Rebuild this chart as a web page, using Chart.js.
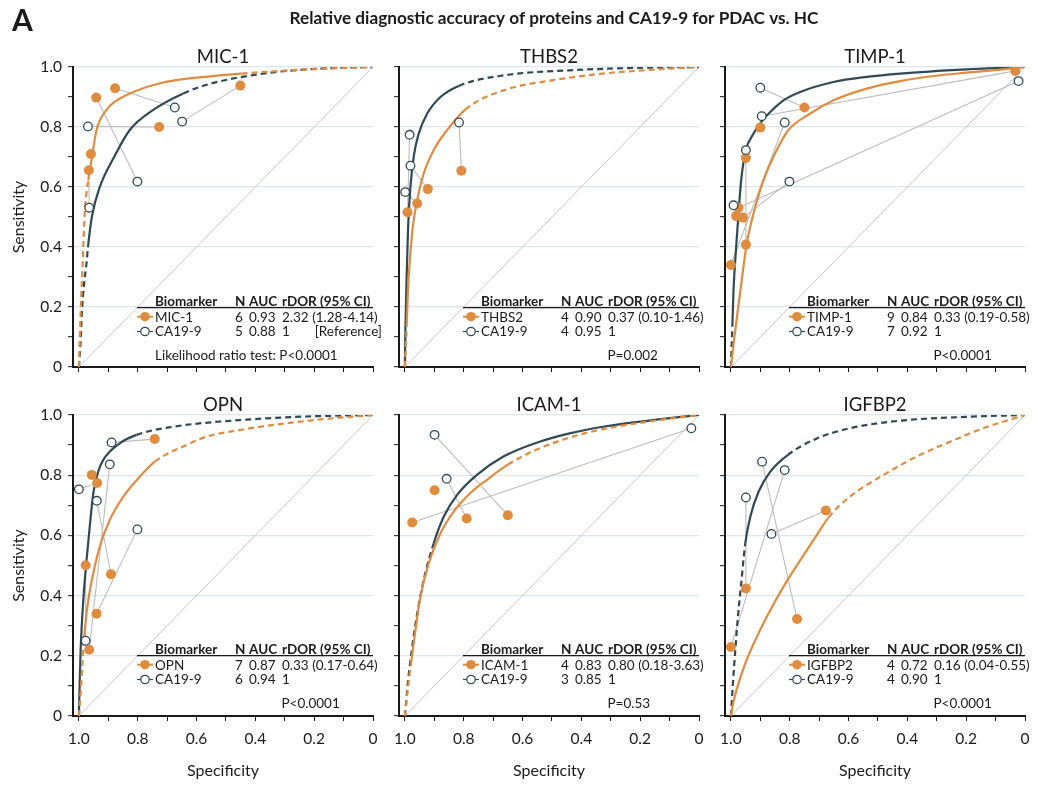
<!DOCTYPE html>
<html>
<head>
<meta charset="utf-8">
<title>Relative diagnostic accuracy of proteins and CA19-9 for PDAC vs. HC</title>
<script src="https://cdn.jsdelivr.net/npm/chart.js"></script>
<style>
body { margin: 0; background: #fff; width: 1038px; height: 786px; position: relative; overflow: hidden; }
canvas { position: absolute; left: 0; top: 0; }
</style>
</head>
<body>
<script>
// ---- data: [specificity, sensitivity] ----
const panelTitles = ['MIC-1', 'THBS2', 'TIMP-1', 'OPN', 'ICAM-1', 'IGFBP2'];
const proteinN = ['6', '4', '9', '7', '4', '4'];
const proteinAuc = ['0.93', '0.90', '0.84', '0.87', '0.83', '0.72'];
const proteinRdor = ['2.32 (1.28-4.14)', '0.37 (0.10-1.46)', '0.33 (0.19-0.58)', '0.33 (0.17-0.64)', '0.80 (0.18-3.63)', '0.16 (0.04-0.55)'];
const caN = ['5', '4', '7', '6', '3', '4'];
const caAuc = ['0.88', '0.95', '0.92', '0.94', '0.85', '0.90'];
const caRdor = ['1', '1', '1', '1', '1', '1'];
const pValues = ['Likelihood ratio test: P<0.0001', 'P=0.002', 'P<0.0001', 'P<0.0001', 'P=0.53', 'P<0.0001'];
const tickValues = [0, 0.1, 0.2, 0.3, 0.4, 0.5, 0.6, 0.7, 0.8, 0.9, 1.0];
const tickLabels = ['0', '0.2', '0.4', '0.6', '0.8', '1.0'];

const chanceLine = [[1, 0], [0, 1]];

// MIC-1
const mic1Studies = [[0.941, 0.898], [0.877, 0.929], [0.727, 0.800], [0.451, 0.938], [0.959, 0.710], [0.966, 0.656]];
const mic1CaStudies = [[0.969, 0.802], [0.674, 0.865], [0.649, 0.818], [0.801, 0.618], [0.965, 0.531]];
const mic1Pairs = [[1, 1], [0, 3], [2, 0], [3, 2], [5, 4]];
const mic1Sroc = [[1, 0], [0.994, 0.18], [0.987, 0.347], [0.98, 0.513], [0.968, 0.624], [0.957, 0.69], [0.94, 0.79], [0.906, 0.857], [0.877, 0.885], [0.838, 0.907], [0.724, 0.946], [0.554, 0.969], [0.447, 0.978], [0.227, 0.992], [0, 1]];
const mic1CaSroc = [[1, 0], [0.994, 0.09], [0.99, 0.18], [0.983, 0.27], [0.974, 0.347], [0.969, 0.4], [0.956, 0.5], [0.929, 0.6], [0.883, 0.695], [0.827, 0.79], [0.747, 0.857], [0.645, 0.912], [0.55, 0.945], [0.34, 0.982], [0.15, 0.996], [0, 1]];

// THBS2
const thbs2Studies = [[0.991, 0.516], [0.958, 0.545], [0.922, 0.593], [0.808, 0.654]];
const thbs2CaStudies = [[0.984, 0.774], [0.981, 0.671], [0.999, 0.583], [0.816, 0.815]];
const thbs2Pairs = [[0, 0], [2, 1], [1, 2], [3, 3]];
const thbs2Sroc = [[1, 0], [0.994, 0.135], [0.99, 0.246], [0.983, 0.357], [0.973, 0.468], [0.958, 0.557], [0.936, 0.645], [0.902, 0.723], [0.857, 0.789], [0.795, 0.858], [0.665, 0.922], [0.496, 0.956], [0.327, 0.978], [0.158, 0.991], [0, 1]];
const thbs2CaSroc = [[1, 0], [0.998, 0.135], [0.994, 0.302], [0.989, 0.468], [0.981, 0.601], [0.97, 0.701], [0.953, 0.778], [0.924, 0.845], [0.879, 0.9], [0.817, 0.937], [0.665, 0.972], [0.44, 0.989], [0.214, 0.997], [0, 1]];

// TIMP-1
const timp1Studies = [[0.033, 0.987], [0.750, 0.865], [0.900, 0.798], [0.949, 0.697], [0.974, 0.531], [0.982, 0.503], [0.959, 0.498], [0.949, 0.408], [1.0, 0.340]];
const timp1CaStudies = [[0.022, 0.953], [0.900, 0.931], [0.895, 0.836], [0.817, 0.815], [0.949, 0.723], [0.801, 0.618], [0.991, 0.539]];
const timp1Pairs = [[1, 1], [0, 2], [4, 0], [6, 5], [7, 4], [8, 3], [5, 6]];
const timp1Sroc = [[1, 0], [0.988, 0.1], [0.975, 0.2], [0.963, 0.29], [0.946, 0.412], [0.923, 0.512], [0.889, 0.623], [0.844, 0.723], [0.805, 0.789], [0.73, 0.845], [0.651, 0.889], [0.538, 0.928], [0.425, 0.953], [0.311, 0.97], [0.198, 0.981], [0.085, 0.991], [0, 1]];
const timp1CaSroc = [[1, 0], [0.995, 0.135], [0.991, 0.257], [0.982, 0.401], [0.974, 0.512], [0.965, 0.623], [0.949, 0.723], [0.925, 0.775], [0.9, 0.812], [0.878, 0.838], [0.821, 0.889], [0.764, 0.917], [0.651, 0.95], [0.538, 0.967], [0.425, 0.978], [0.198, 0.992], [0, 1]];

// OPN
const opnStudies = [[0.742, 0.920], [0.956, 0.801], [0.938, 0.774], [0.977, 0.501], [0.891, 0.471], [0.940, 0.340], [0.965, 0.220]];
const opnCaStudies = [[0.889, 0.909], [0.895, 0.836], [1.0, 0.753], [0.939, 0.715], [0.801, 0.620], [0.977, 0.250]];
const opnPairs = [[0, 0], [6, 1], [2, 2], [4, 3], [5, 4], [3, 5]];
const opnSroc = [[1, 0], [0.994, 0.075], [0.988, 0.175], [0.98, 0.286], [0.968, 0.385], [0.951, 0.474], [0.929, 0.563], [0.895, 0.651], [0.849, 0.729], [0.793, 0.795], [0.742, 0.845], [0.623, 0.905], [0.566, 0.928], [0.453, 0.95], [0.34, 0.967], [0.17, 0.986], [0, 1]];
const opnCaSroc = [[1, 0], [0.997, 0.12], [0.994, 0.22], [0.985, 0.385], [0.974, 0.518], [0.962, 0.64], [0.951, 0.74], [0.935, 0.81], [0.917, 0.851], [0.861, 0.906], [0.804, 0.934], [0.68, 0.961], [0.453, 0.983], [0.227, 0.995], [0, 1]];

// ICAM-1
const icamStudies = [[0.975, 0.643], [0.899, 0.750], [0.790, 0.656], [0.650, 0.667]];
const icamCaStudies = [[0.899, 0.934], [0.858, 0.788], [0.026, 0.956]];
const icamPairs = [[3, 0], [2, 1], [0, 2]];
const icamSroc = [[1, 0], [0.989, 0.097], [0.979, 0.175], [0.964, 0.286], [0.947, 0.396], [0.919, 0.507], [0.879, 0.607], [0.834, 0.679], [0.778, 0.74], [0.722, 0.784], [0.65, 0.835], [0.552, 0.885], [0.44, 0.925], [0.327, 0.953], [0.158, 0.98], [0, 1]];
const icamCaSroc = [[1, 0], [0.99, 0.109], [0.975, 0.23], [0.958, 0.341], [0.936, 0.452], [0.902, 0.574], [0.868, 0.662], [0.823, 0.734], [0.755, 0.801], [0.665, 0.862], [0.552, 0.908], [0.44, 0.939], [0.327, 0.961], [0.158, 0.983], [0, 1]];

// IGFBP2
const igfbp2Studies = [[1.0, 0.229], [0.949, 0.424], [0.775, 0.322], [0.677, 0.683]];
const igfbp2CaStudies = [[0.949, 0.726], [0.894, 0.845], [0.817, 0.817], [0.862, 0.605]];
const igfbp2Pairs = [[1, 0], [2, 1], [0, 2], [3, 3]];
const igfbp2Sroc = [[1, 0], [0.991, 0.048], [0.974, 0.109], [0.951, 0.175], [0.917, 0.252], [0.878, 0.33], [0.821, 0.43], [0.764, 0.518], [0.708, 0.601], [0.668, 0.66], [0.595, 0.729], [0.481, 0.801], [0.368, 0.862], [0.255, 0.911], [0.142, 0.956], [0, 1]];
const igfbp2CaSroc = [[1, 0], [0.993, 0.109], [0.985, 0.219], [0.976, 0.33], [0.966, 0.43], [0.951, 0.574], [0.934, 0.662], [0.906, 0.745], [0.866, 0.812], [0.807, 0.867], [0.708, 0.922], [0.595, 0.956], [0.425, 0.981], [0.198, 0.994], [0, 1]];

// ---- layout / style ----
const ORANGE = '#e08c3f';
const DARK = '#2f4a55';
const INK = '#1a1a1a';
const FONT = 'Lato, "Noto Sans", sans-serif';
const colLeft = [73, 399, 725];
const rowTop = [67, 415];
const rowBottom = [367, 716];
const areaWidth = 300;
const yAxisWidth = 45;
const xAxisHeight = 35;
const pageW = 1038, pageH = 786;

Chart.defaults.font.family = FONT;
Chart.defaults.color = INK;

const panels = [
    {studies: mic1Studies, ca: mic1CaStudies, pairs: mic1Pairs, sroc: mic1Sroc, caSroc: mic1CaSroc},
    {studies: thbs2Studies, ca: thbs2CaStudies, pairs: thbs2Pairs, sroc: thbs2Sroc, caSroc: thbs2CaSroc},
    {studies: timp1Studies, ca: timp1CaStudies, pairs: timp1Pairs, sroc: timp1Sroc, caSroc: timp1CaSroc},
    {studies: opnStudies, ca: opnCaStudies, pairs: opnPairs, sroc: opnSroc, caSroc: opnCaSroc},
    {studies: icamStudies, ca: icamCaStudies, pairs: icamPairs, sroc: icamSroc, caSroc: icamCaSroc},
    {studies: igfbp2Studies, ca: igfbp2CaStudies, pairs: igfbp2Pairs, sroc: igfbp2Sroc, caSroc: igfbp2CaSroc}
];

function xy(p)
{
    return {x: p[0], y: p[1]};
}

function tickText(v)
{
    var r = Math.round(v * 10);
    if (r % 2 !== 0) return '';
    return tickLabels[r / 2];
}

function isMajor(v)
{
    var r = Math.round(v * 10);
    return r % 2 === 0 && r > 0;
}

function fixedTicks(s)
{
    s.ticks = tickValues.map(function (v) { return {value: v}; });
}

// solid over the range of observed specificities, dashed outside it
function srocDataset(curve, studies, color)
{
    var specs = studies.map(function (s) { return s[0]; });
    var lo = Math.min.apply(null, specs), hi = Math.max.apply(null, specs);
    return {
        data: curve.map(xy),
        showLine: true,
        borderColor: color,
        borderWidth: 2.2,
        pointRadius: 0,
        cubicInterpolationMode: 'monotone',
        segment: {
            borderDash: function (ctx) {
                var m = (ctx.p0.parsed.x + ctx.p1.parsed.x) / 2;
                return (m >= lo - 0.002 && m <= hi + 0.002) ? undefined : [6, 4];
            }
        }
    };
}

function legendMarker(c, x, y, filled)
{
    c.beginPath();
    c.moveTo(x - 8, y);
    c.lineTo(x + 8, y);
    c.strokeStyle = filled ? ORANGE : DARK;
    c.lineWidth = filled ? 2 : 1.2;
    c.stroke();
    c.beginPath();
    c.arc(x, y, filled ? 4.8 : 4.2, 0, Math.PI * 2);
    if (filled)
    {
        c.fillStyle = ORANGE;
        c.fill();
    }
    else
    {
        c.fillStyle = '#fff';
        c.fill();
        c.strokeStyle = DARK;
        c.lineWidth = 1.2;
        c.stroke();
    }
}

function panelText(i)
{
    return {
        id: 'panelText' + i,
        afterDraw: function (chart) {
            var a = chart.chartArea, c = chart.ctx;
            var col = i % 3, row = Math.floor(i / 3);
            var x0 = a.left, y0 = a.top;
            c.save();
            c.fillStyle = INK;
            c.textBaseline = 'alphabetic';

            if (i === 0)
            {
                c.font = 'bold 30px ' + FONT;
                c.textAlign = 'left';
                c.fillText('A', 12, 31);
                c.font = 'bold 17.2px ' + FONT;
                c.textAlign = 'center';
                c.fillText('Relative diagnostic accuracy of proteins and CA19-9 for PDAC vs. HC', 554, 24);
            }

            c.font = '18.5px ' + FONT;
            c.textAlign = 'center';
            c.fillText(panelTitles[i], (a.left + a.right) / 2, a.top - 4);

            if (col === 0)
            {
                c.save();
                c.font = '16px ' + FONT;
                c.translate(24, (a.top + a.bottom) / 2);
                c.rotate(-Math.PI / 2);
                c.fillText('Sensitivity', 0, 0);
                c.restore();
            }
            if (row === 1)
            {
                c.font = '16px ' + FONT;
                c.textAlign = 'center';
                c.fillText('Specificity', (a.left + a.right) / 2, 776);
            }

            // legend table
            var fs = '13.5px ' + FONT;
            c.textAlign = 'left';
            c.font = 'bold ' + fs;
            c.fillText('Biomarker', x0 + 82, y0 + 238.6);
            c.fillText('N', x0 + 162, y0 + 238.6);
            c.fillText('AUC', x0 + 176, y0 + 238.6);
            c.fillText('rDOR (95% CI)', x0 + 209, y0 + 238.6);
            c.beginPath();
            c.moveTo(x0 + 64, y0 + 240.7);
            c.lineTo(x0 + 300, y0 + 240.7);
            c.strokeStyle = INK;
            c.lineWidth = 1.3;
            c.stroke();

            c.font = fs;
            c.fillText(panelTitles[i], x0 + 82, y0 + 254.6);
            c.fillText(proteinN[i], x0 + 162, y0 + 254.6);
            c.fillText(proteinAuc[i], x0 + 176, y0 + 254.6);
            c.fillText(proteinRdor[i], x0 + 209, y0 + 254.6);
            c.fillText('CA19-9', x0 + 82, y0 + 269.4);
            c.fillText(caN[i], x0 + 162, y0 + 269.4);
            c.fillText(caAuc[i], x0 + 176, y0 + 269.4);
            c.fillText(caRdor[i], x0 + 209, y0 + 269.4);
            if (i === 0)
            {
                c.textAlign = 'right';
                c.fillText('[Reference]', x0 + 309, y0 + 269.4);
                c.textAlign = 'left';
                c.fillText(pValues[i], x0 + 82, y0 + 292.9);
            }
            else
            {
                c.fillText(pValues[i], x0 + 208.5, y0 + 292.9);
            }
            legendMarker(c, x0 + 72, y0 + 249.7, true);
            legendMarker(c, x0 + 72, y0 + 264.5, false);
            c.restore();
        }
    };
}

function makePanel(i)
{
    var p = panels[i];
    var col = i % 3, row = Math.floor(i / 3);
    var left = colLeft[col], top = rowTop[row], bottom = rowBottom[row];
    var canvas = document.createElement('canvas');
    canvas.width = pageW;
    canvas.height = pageH;
    document.body.appendChild(canvas);

    var datasets = [];
    datasets.push({
        data: p.ca.map(xy), showLine: false,
        pointRadius: 4.3, pointBackgroundColor: '#fff', pointBorderColor: DARK, pointBorderWidth: 1.3
    });
    datasets.push({
        data: p.studies.map(xy), showLine: false,
        pointRadius: 5, pointBackgroundColor: ORANGE, pointBorderColor: ORANGE, pointBorderWidth: 0
    });
    datasets.push(srocDataset(p.sroc, p.studies, ORANGE));
    datasets.push(srocDataset(p.caSroc, p.ca, DARK));
    p.pairs.forEach(function (pr) {
        datasets.push({
            data: [xy(p.studies[pr[0]]), xy(p.ca[pr[1]])],
            showLine: true, borderColor: '#bcbcbc', borderWidth: 1.1, pointRadius: 0
        });
    });
    datasets.push({
        data: chanceLine.map(xy), showLine: true,
        borderColor: '#c6c6c6', borderWidth: 1, pointRadius: 0
    });

    new Chart(canvas, {
        type: 'scatter',
        data: {datasets: datasets},
        options: {
            responsive: false,
            animation: false,
            events: [],
            layout: {padding: {
                left: left - yAxisWidth,
                top: top,
                right: pageW - left - areaWidth,
                bottom: pageH - bottom - xAxisHeight
            }},
            plugins: {legend: {display: false}, tooltip: {enabled: false}, title: {display: false}},
            scales: {
                x: {
                    type: 'linear', reverse: true, min: 0, max: 1.02,
                    afterBuildTicks: fixedTicks,
                    afterFit: function (s) { s.height = xAxisHeight; },
                    ticks: {display: row === 1, callback: tickText, autoSkip: false, maxRotation: 0,
                            padding: 9, color: INK, font: {size: 15.5}},
                    grid: {drawOnChartArea: false, tickLength: 5, tickColor: INK, tickWidth: 1},
                    border: {display: true, color: INK, width: 2}
                },
                y: {
                    type: 'linear', min: 0, max: 1,
                    afterBuildTicks: fixedTicks,
                    afterFit: function (s) { s.width = yAxisWidth; },
                    ticks: {display: col === 0, callback: tickText, autoSkip: false,
                            padding: 6, color: INK, font: {size: 15.5}},
                    grid: {
                        color: function (ctx) { return ctx.tick && isMajor(ctx.tick.value) ? '#dce6ed' : 'rgba(0,0,0,0)'; },
                        lineWidth: 1.3, tickLength: 5, tickColor: INK, tickWidth: 1
                    },
                    border: {display: true, color: INK, width: 2}
                }
            }
        },
        plugins: [panelText(i)]
    });
}

for (var i = 0; i < panels.length; i++)
{
    makePanel(i);
}
</script>
</body>
</html>
